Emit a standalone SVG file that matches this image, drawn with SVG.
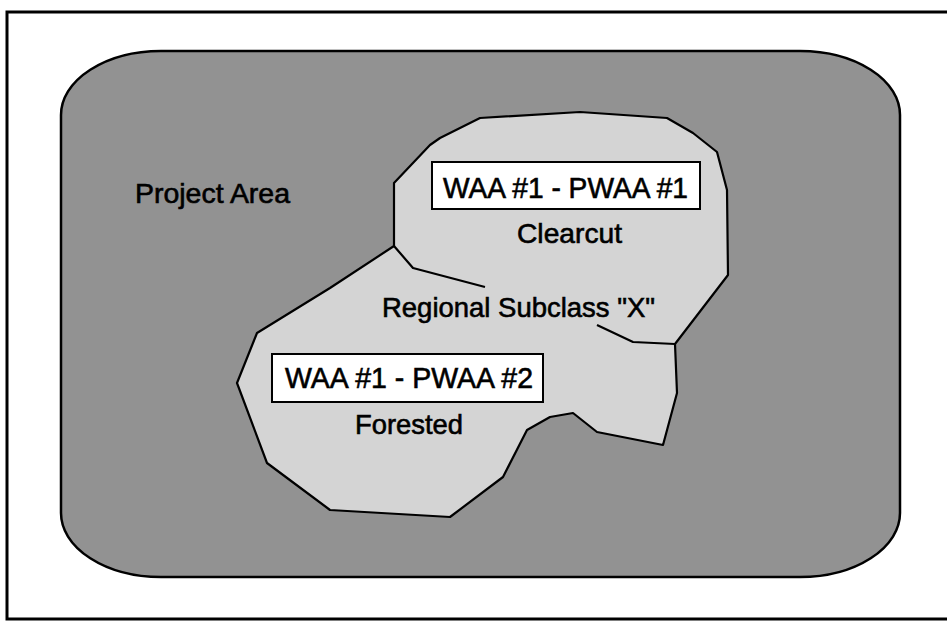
<svg xmlns="http://www.w3.org/2000/svg" width="947" height="622" viewBox="0 0 947 622">
  <style>
    .lbl { font-family: "Liberation Sans", Arial, sans-serif; font-size: 28px; fill: #000; stroke: #000; stroke-width: 0.6; }
    .box { fill: #fff; stroke: #000; stroke-width: 2; }
    .edge { fill: none; stroke: #000; stroke-width: 2.2; stroke-linejoin: round; }
  </style>
  <rect x="0" y="0" width="947" height="622" fill="#fff"/>
  <g id="frame">
    <path d="M947,12 L7,12 L7,619 L947,619" fill="none" stroke="#000" stroke-width="3"/>
  </g>
  <g id="project-area">
    <path d="M161,51 L800,51 A100,64 0 0 1 900,115 L900,513 A100,64 0 0 1 800,577 L161,577 A100,64 0 0 1 61,513 L61,115 A100,64 0 0 1 161,51 Z" fill="#929292" stroke="#000" stroke-width="2.5"/>
    <text class="lbl" x="135" y="203" textLength="155" lengthAdjust="spacingAndGlyphs">Project Area</text>
  </g>
  <g id="subclass-x">
    <path class="edge" style="fill:#d4d4d4" d="M394,246 L394,183 L430,145 L440,138 L480,118 L580,112 L667,118 L693,133 L717,152 L727,190 L728,275 L675,344 L677,393 L663,445 L597,432 L573,413 L550,417 L527,430 L503,477 L450,517 L330,510 L267,463 L237,383 L257,333 L330,288 Z"/>
    <polyline class="edge" points="394,246 413,268 485,287"/>
    <polyline class="edge" points="597,325 633,342 675,344"/>
    <text class="lbl" x="382" y="317" textLength="273" lengthAdjust="spacingAndGlyphs">Regional Subclass "X"</text>
  </g>
  <g id="pwaa-1">
    <rect class="box" x="432" y="162" width="268" height="47"/>
    <text class="lbl" x="443" y="198" style="font-size:29px" textLength="245" lengthAdjust="spacingAndGlyphs">WAA #1 - PWAA #1</text>
    <text class="lbl" x="517" y="243" textLength="105" lengthAdjust="spacingAndGlyphs">Clearcut</text>
  </g>
  <g id="pwaa-2">
    <rect class="box" x="272" y="354" width="271" height="48"/>
    <text class="lbl" x="285" y="388" style="font-size:29px" textLength="248" lengthAdjust="spacingAndGlyphs">WAA #1 - PWAA #2</text>
    <text class="lbl" x="355" y="434" textLength="108" lengthAdjust="spacingAndGlyphs">Forested</text>
  </g>
  <g id="connectors"/>
</svg>
